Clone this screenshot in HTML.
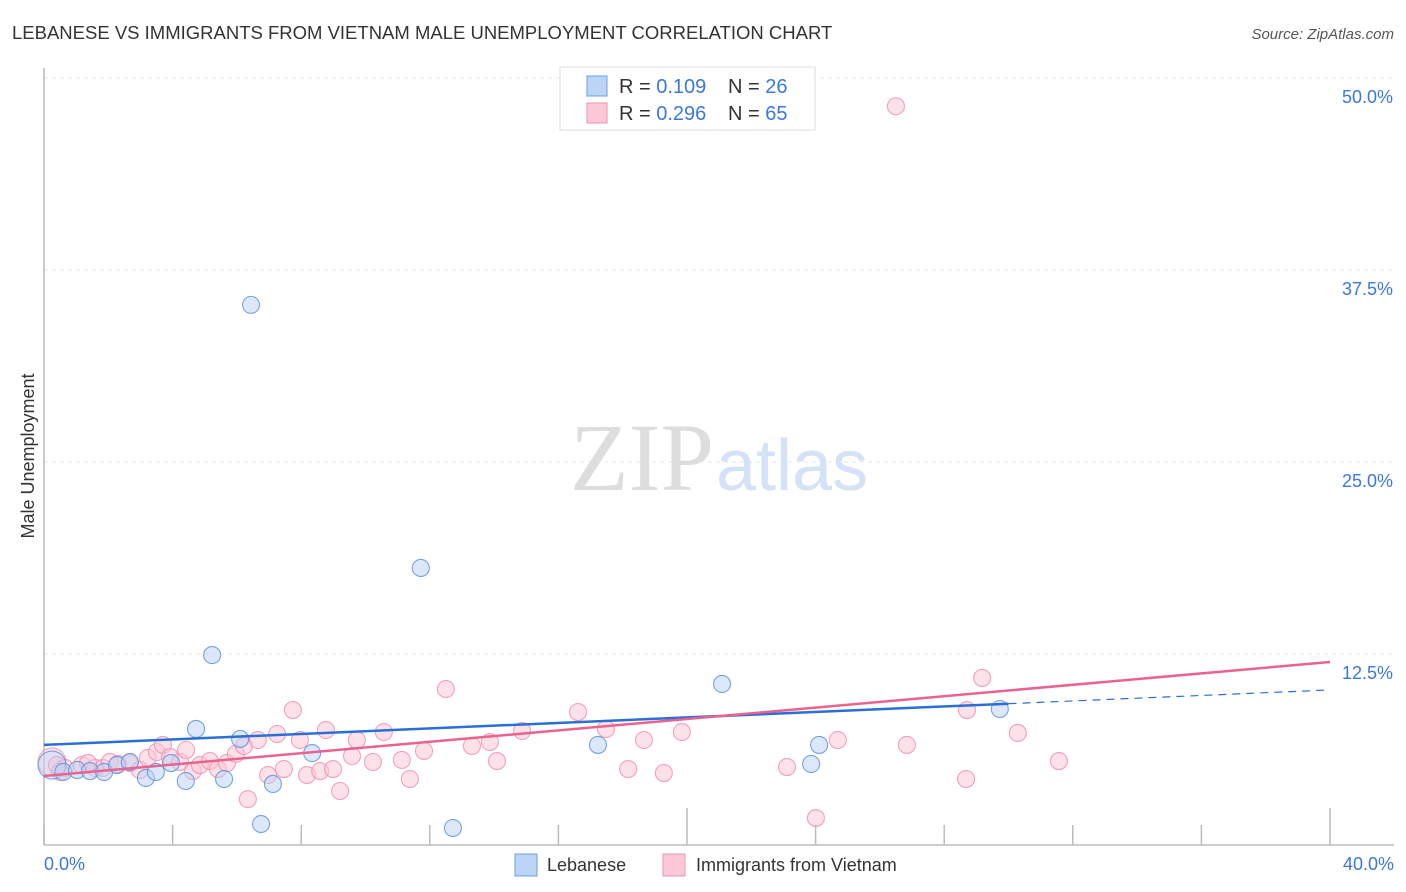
<!DOCTYPE html>
<html><head><meta charset="utf-8"><style>
body{margin:0;background:#fff;font-family:"Liberation Sans",sans-serif;}
#wrap{position:relative;width:1406px;height:892px;overflow:hidden;}
</style></head><body>
<div id="wrap">
<svg id="chart" width="1406" height="892" xmlns="http://www.w3.org/2000/svg">
<text x="12" y="39" font-size="18.5" fill="#333">LEBANESE VS IMMIGRANTS FROM VIETNAM MALE UNEMPLOYMENT CORRELATION CHART</text>
<text x="1394" y="39" font-size="15" fill="#555" text-anchor="end" font-style="italic">Source: ZipAtlas.com</text>
<text x="34" y="456" font-size="18" fill="#333" text-anchor="middle" transform="rotate(-90 34 456)">Male Unemployment</text>
<g id="grid"></g>
<text x="714" y="490" font-size="96" fill="#ddd" text-anchor="end" font-family="Liberation Serif,serif">ZIP</text>
<text x="716" y="490" font-size="72" fill="#d3e2f6">atlas</text>
<g id="marks"></g>
<g>
<rect x="560" y="67" width="255" height="63" fill="#fff" stroke="#ddd"/>
<rect x="587" y="76" width="20" height="20" fill="#bcd4f6" stroke="#6d9ee6"/>
<rect x="587" y="103" width="20" height="20" fill="#fcc8d8" stroke="#ee92b1"/>
<text x="619" y="93" font-size="20" fill="#333">R = <tspan fill="#3b78d8">0.109</tspan></text>
<text x="728" y="93" font-size="20" fill="#333">N = <tspan fill="#3b78d8">26</tspan></text>
<text x="619" y="120" font-size="20" fill="#333">R = <tspan fill="#3b78d8">0.296</tspan></text>
<text x="728" y="120" font-size="20" fill="#333">N = <tspan fill="#3b78d8">65</tspan></text>
</g>
<g>
<rect x="515" y="854" width="22" height="22" fill="#bcd4f6" stroke="#6d9ee6"/>
<text x="547" y="871" font-size="18" fill="#333">Lebanese</text>
<rect x="663" y="854" width="22" height="22" fill="#fcc8d8" stroke="#ee92b1"/>
<text x="696" y="871" font-size="18" fill="#333">Immigrants from Vietnam</text>
</g>
<text x="44" y="870" font-size="18" fill="#3b78d8">0.0%</text>
<text x="1394" y="870" font-size="18" fill="#3b78d8" text-anchor="end">40.0%</text>
</svg>
</div>
<script>
const yTicks=[12.5,25,37.5,50];
const yTickLabels=["12.5%","25.0%","37.5%","50.0%"];
const xTicks=[0,4,8,12,16,20,24,28,32,36,40];
const lebX=[0.25,0.6,1.03,1.43,1.87,2.27,2.67,3.17,3.48,3.95,4.41,4.73,5.23,5.6,6.1,6.44,6.75,7.12,8.34,11.72,12.72,17.23,21.09,23.86,24.11,29.73];
const lebY=[5.27,4.82,4.95,4.88,4.82,5.27,5.47,4.43,4.82,5.4,4.23,7.62,12.43,4.36,6.97,35.23,1.43,4.04,6.05,18.1,1.17,6.58,10.55,5.34,6.58,8.92];
const vieX=[0.25,0.4,0.65,1.18,1.59,1.84,2.05,2.3,2.67,2.98,3.23,3.51,3.7,3.92,4.23,4.42,4.63,4.85,5.16,5.41,5.69,5.97,6.22,6.34,6.65,6.97,7.25,7.46,7.74,7.96,8.18,8.59,8.77,8.99,9.21,9.58,9.73,10.23,10.57,11.13,11.38,11.82,12.5,13.31,13.87,14.09,14.87,16.61,17.48,18.17,18.66,19.28,19.84,23.11,24.01,24.69,26.5,26.84,28.68,28.71,29.18,30.29,31.57,0.5,1.37];
const vieY=[5.47,5.27,5.08,5.27,5.08,5.08,5.47,5.34,5.4,4.95,5.73,6.12,6.58,5.79,5.47,6.25,4.88,5.27,5.53,5.01,5.4,6.0,6.51,3.05,6.9,4.62,7.29,5.01,8.85,6.9,4.62,4.88,7.55,5.01,3.58,5.86,6.9,5.47,7.42,5.6,4.36,6.19,10.22,6.51,6.77,5.53,7.49,8.72,7.62,5.01,6.9,4.75,7.42,5.14,1.82,6.9,48.16,6.58,4.36,8.85,10.94,7.36,5.53,4.82,5.4];
const lebTrend=[6.58,10.16];
const vieTrend=[4.56,11.98];
const NS="http://www.w3.org/2000/svg";
const X=v=>44+v/40*1286, Y=v=>846-v/12.5*192;
function mk(tag,attrs,parent){const e=document.createElementNS(NS,tag);for(const k in attrs)e.setAttribute(k,attrs[k]);parent.appendChild(e);return e;}
const grid=document.getElementById('grid'), marks=document.getElementById('marks');
yTicks.forEach((t,i)=>{
 const l=mk('line',{x1:44,x2:1394,y1:Y(t),y2:Y(t),stroke:'#e4e4e4','stroke-dasharray':'4,4'},grid);
 
 
 const tx=mk('text',{x:1393,y:Y(t)+25,'font-size':18,fill:'#3b78d8','text-anchor':'end'},grid);
 tx.textContent=yTickLabels[i];
 
 
});
const ax=mk('line',{x1:44,x2:44,y1:68,y2:845,stroke:'#bbb','stroke-width':1.5},grid);


const bx=mk('line',{x1:44,x2:1394,y1:845,y2:845,stroke:'#bbb','stroke-width':1.5},grid);


xTicks.forEach((t,i)=>{
 const tall=(i==5||i==10);
 const l=mk('line',{x1:X(t),x2:X(t),y1:tall?808:825,y2:845,stroke:'#bbb','stroke-width':1.5},grid);
 
 
});
function dots(xs,ys,fill,stroke,name){
 xs.forEach((x,i)=>{
  const big=i==0;
  const c=mk('circle',{cx:X(x),cy:Y(ys[i]),r:big?14:8.5,fill:fill,'fill-opacity':big?0.4:0.5,stroke:stroke,'stroke-opacity':0.85,'stroke-width':1.1},marks);
  
  
 });
}
dots(vieX,vieY,'#fbc3d4','#ee92b1','point-vietnam');
dots(lebX,lebY,'#b9d2f4','#5f93e0','point-lebanese');
const bl=mk('line',{x1:X(0),y1:Y(lebTrend[0]),x2:X(30),y2:Y(lebTrend[0]+(lebTrend[1]-lebTrend[0])*0.75),stroke:'#2a6fd6','stroke-width':2.5},marks);


const bd=mk('line',{x1:X(30),y1:Y(lebTrend[0]+(lebTrend[1]-lebTrend[0])*0.75),x2:X(40),y2:Y(lebTrend[1]),stroke:'#2a6fd6','stroke-width':1.2,'stroke-dasharray':'8,6'},marks);


const pl=mk('line',{x1:X(0),y1:Y(vieTrend[0]),x2:X(40),y2:Y(vieTrend[1]),stroke:'#e8648f','stroke-width':2.5},marks);


</script>
</body></html>
